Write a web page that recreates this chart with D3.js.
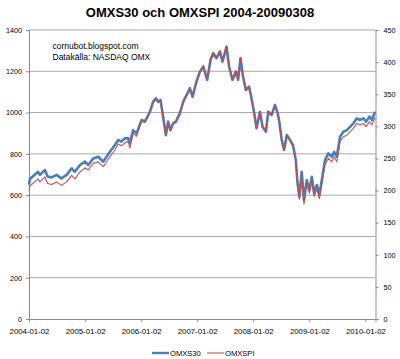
<!DOCTYPE html>
<html><head><meta charset="utf-8">
<script src="https://cdn.jsdelivr.net/npm/d3@7"></script>
<style>
html,body{margin:0;padding:0;background:#fff;}
svg{display:block;font-family:"Liberation Sans",Arial,sans-serif;}
</style></head>
<body><svg id="c" width="400" height="359"></svg>
<script>
const dates = ["2004-01-02","2004-01-08","2004-03-01","2004-03-13","2004-04-15","2004-05-02","2004-05-28","2004-06-30","2004-08-01","2004-09-03","2004-10-06","2004-10-27","2004-11-29","2005-01-01","2005-01-22","2005-02-24","2005-03-28","2005-04-30","2005-06-12","2005-07-15","2005-08-05","2005-08-27","2005-09-18","2005-10-09","2005-10-20","2005-11-11","2005-12-03","2006-01-05","2006-01-26","2006-02-28","2006-03-21","2006-04-08","2006-04-23","2006-05-08","2006-05-25","2006-06-12","2006-06-27","2006-07-12","2006-07-29","2006-08-16","2006-09-11","2006-10-03","2006-10-25","2006-11-15","2006-12-03","2006-12-25","2007-01-20","2007-02-11","2007-03-08","2007-03-30","2007-04-16","2007-05-08","2007-05-30","2007-06-16","2007-07-12","2007-07-29","2007-08-20","2007-09-11","2007-09-26","2007-10-11","2007-10-28","2007-11-15","2007-12-06","2007-12-22","2008-01-09","2008-01-24","2008-02-15","2008-03-03","2008-03-25","2008-04-09","2008-05-01","2008-05-23","2008-06-10","2008-06-20","2008-07-06","2008-07-21","2008-08-08","2008-08-29","2008-09-17","2008-10-06","2008-10-16","2008-10-29","2008-11-13","2008-11-28","2008-12-16","2009-01-02","2009-01-18","2009-02-02","2009-02-20","2009-03-08","2009-03-24","2009-04-14","2009-05-06","2009-05-28","2009-06-12","2009-06-30","2009-07-21","2009-08-11","2009-09-03","2009-09-24","2009-10-16","2009-11-07","2009-11-28","2009-12-20","2010-01-07","2010-01-28","2010-02-13","2010-03-06"];
const omxs30 = [650,678,713,698,722,690,686,698,681,698,730,713,746,762,746,778,786,762,810,843,867,859,876,875,852,915,900,964,956,1004,1053,1069,1053,1061,980,891,956,915,948,956,996,1053,1085,1118,1077,1142,1198,1222,1158,1255,1287,1263,1295,1246,1319,1222,1158,1198,1158,1263,1174,1109,1125,1069,996,924,1004,931,907,1004,988,1037,996,956,867,819,891,867,843,770,665,592,713,576,673,625,689,609,649,601,673,770,802,786,810,786,883,907,915,931,948,972,964,972,956,980,964,1004];
const omxspi = [200,207.0,218.3,213.5,221.2,210.9,209.6,213.5,208.0,213.5,223.7,218.3,228.9,235.4,232.0,242.3,244.8,237.1,252.6,263.2,272.5,269.9,274.0,276.6,266.0,289.4,284.6,308.4,305.8,321.2,337.0,342.1,337.0,339.5,313.5,284.9,305.8,292.6,303.2,305.8,318.6,337.0,347.3,357.9,344.7,365.6,386.6,394.3,373.7,404.9,415.2,407.5,417.7,402.0,425.5,394.3,373.7,386.6,373.7,407.5,378.4,357.5,362.6,344.1,320.1,297.0,322.7,299.2,291.5,322.7,317.6,333.3,320.1,307.3,278.7,263.3,286.4,278.7,269.5,245.5,210.8,186.3,225.2,179.1,211.3,195.9,216.5,190.7,203.6,187.2,210.3,240.5,250.0,244.8,252.6,244.8,276.0,283.7,286.3,291.4,296.9,304.6,302.1,304.6,299.5,307.2,302.1,313.7];
const leftTicks = [0,200,400,600,800,1000,1200,1400];
const rightTicks = [0,50,100,150,200,250,300,350,400,450];
const xTickLabels = ["2004-01-02","2005-01-02","2006-01-02","2007-01-02","2008-01-02","2009-01-02","2010-01-02"];
const titleText = "OMXS30 och OMXSPI 2004-20090308";
const noteLines = ["cornubot.blogspot.com","Datakälla: NASDAQ OMX"];
const seriesNames = ["OMXS30","OMXSPI"];

const parse = d3.timeParse("%Y-%m-%d");
const svg = d3.select("#c");
const L = 29, R = 375.5, T = 30, B = 319;
const blue = "#4a7ebb", red = "#c0504d";

const x = d3.scaleTime().domain([parse("2004-01-02"), parse("2010-03-09")]).range([L, R]);
const yL = d3.scaleLinear().domain([0,1400]).range([B, T]);
const yR = d3.scaleLinear().domain([0,450]).range([B, T]);

svg.append("text").attr("x",200).attr("y",16.5).attr("text-anchor","middle")
  .attr("font-size",13).attr("font-weight","bold").attr("fill","#000").text(titleText);

svg.append("g").selectAll("line").data(leftTicks.slice(1)).join("line")
  .attr("x1",L).attr("x2",R).attr("y1",d=>yL(d)).attr("y2",d=>yL(d))
  .attr("stroke","#a8a8a8").attr("stroke-width",1);

const gl = svg.append("g").attr("transform",`translate(${L},0)`)
  .call(d3.axisLeft(yL).tickValues(leftTicks).tickFormat(d3.format("d")).tickSize(3).tickPadding(4));
const gr = svg.append("g").attr("transform",`translate(${R},0)`)
  .call(d3.axisRight(yR).tickValues(rightTicks).tickFormat(d3.format("d")).tickSize(3).tickPadding(5));
const gb = svg.append("g").attr("transform",`translate(0,${B})`)
  .call(d3.axisBottom(x).tickValues(xTickLabels.map(parse)).tickSize(3).tickPadding(6)
    .tickFormat((d,i)=>xTickLabels[i]));
[gl,gr,gb].forEach(g=>{
  g.select(".domain").attr("stroke","#8c8c8c");
  g.selectAll(".tick line").attr("stroke","#8c8c8c");
  g.selectAll(".tick text").attr("fill","#000").attr("font-family","'Liberation Sans',Arial,sans-serif");
});
gl.selectAll(".tick text").attr("font-size",7.2);
gr.selectAll(".tick text").attr("font-size",7.2);
gb.selectAll(".tick text").attr("font-size",7.8);

const pts = dates.map((d,i)=>({d:parse(d), a:omxs30[i], b:omxspi[i]}));
svg.append("path").datum(pts)
  .attr("d", d3.line().x(p=>x(p.d)).y(p=>yL(p.a)))
  .attr("fill","none").attr("stroke",blue).attr("stroke-width",2.6).attr("stroke-linejoin","round");
svg.append("path").datum(pts)
  .attr("d", d3.line().x(p=>x(p.d)).y(p=>yR(p.b)))
  .attr("fill","none").attr("stroke",red).attr("stroke-width",1.1).attr("stroke-linejoin","round");

svg.append("g").selectAll("text").data(noteLines).join("text")
  .attr("x",52.5).attr("y",(d,i)=>49+i*11).attr("font-size",8.5).attr("fill","#000").text(d=>d);

const lg = svg.append("g");
const legendItems = [{n:seriesNames[0],c:blue,w:2.4,x0:152},{n:seriesNames[1],c:"#d98a88",w:1.6,x0:207}];
legendItems.forEach(it=>{
  lg.append("line").attr("x1",it.x0).attr("x2",it.x0+17).attr("y1",353).attr("y2",353)
    .attr("stroke",it.c).attr("stroke-width",it.w);
  lg.append("text").attr("x",it.x0+18).attr("y",356).attr("font-size",7.6).attr("fill","#000").text(it.n);
});
</script></body></html>
